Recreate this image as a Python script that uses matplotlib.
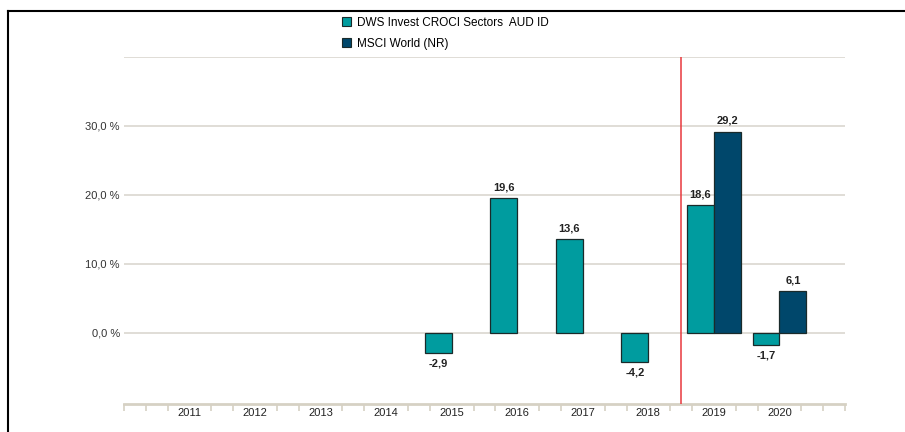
import matplotlib
matplotlib.use('Agg')
import matplotlib.pyplot as plt
from matplotlib.patches import Patch
from matplotlib.lines import Line2D
import numpy as np

plt.rcParams['font.family'] = ['Liberation Sans', 'DejaVu Sans']

years = [2011, 2012, 2013, 2014, 2015, 2016, 2017, 2018, 2019, 2020]
fund_years = [2015, 2016, 2017, 2018, 2019, 2020]
fund_vals = [-2.9, 19.6, 13.6, -4.2, 18.6, -1.7]
index_years = [2019, 2020]
index_vals = [29.2, 6.1]
fund_name = 'DWS Invest CROCI Sectors  AUD ID'
index_name = 'MSCI World (NR)'
y_ticks = [0, 10, 20, 30]

fund_color = '#009c9f'
index_color = '#00476b'
grid_color = '#dad7cf'
axis_color = '#d6d1c4'

fig = plt.figure(figsize=(9.05, 4.32), dpi=100)
ax = fig.add_axes([124 / 905, 1 - 404 / 432, 721 / 905, 347 / 432])

w = 0.41
fb = ax.bar(np.array(fund_years) - w / 2, fund_vals, width=w, color=fund_color,
            edgecolor='#1a2a2a', linewidth=0.9, zorder=3)
ib = ax.bar(np.array(index_years) + w / 2, index_vals, width=w, color=index_color,
            edgecolor='#1a2a2a', linewidth=0.9, zorder=3)

for bars, vals in [(fb, fund_vals), (ib, index_vals)]:
    for b, v in zip(bars, vals):
        x = b.get_x() + b.get_width() / 2
        txt = f'{v:.1f}'.replace('.', ',')
        if v >= 0:
            ax.text(x, v + 0.8, txt, ha='center', va='bottom', fontsize=8,
                    fontweight='bold', color='#222222')
        else:
            ax.text(x, v - 0.8, txt, ha='center', va='top', fontsize=8,
                    fontweight='bold', color='#222222')

ax.set_xlim(2010, 2021)
ax.set_ylim(-10.3, 40)

for g in y_ticks + [40]:
    ax.axhline(g, color=grid_color, linewidth=1.2, zorder=1)

ax.axvline(2018.5, color='#e8383d', linewidth=1.1, zorder=4)

for s in ['top', 'right', 'left']:
    ax.spines[s].set_visible(False)
ax.spines['bottom'].set_color(axis_color)
ax.spines['bottom'].set_linewidth(2)

ax.set_yticks(y_ticks)
ax.set_yticklabels([f'{t:.1f} %'.replace('.', ',') for t in y_ticks],
                   fontsize=8, color='#333333')
ax.tick_params(axis='y', length=0, pad=3)

ax.set_xticks(years)
ax.set_xticklabels([str(y) for y in years], fontsize=8, color='#222222')
ax.tick_params(axis='x', length=0, pad=3)
minor = [2010 + i / 3 for i in range(34) if i % 3 != 0] + [2010, 2021]
ax.set_xticks(minor, minor=True)
ax.tick_params(axis='x', which='minor', length=5, width=1.2, color=axis_color,
               direction='out')

handles = [Patch(facecolor=fund_color, edgecolor='#1a2a2a', linewidth=0.8),
           Patch(facecolor=index_color, edgecolor='#1a2a2a', linewidth=0.8)]
fig.legend(handles, [fund_name, index_name], loc='upper left',
           bbox_to_anchor=(337 / 905, 1 - 12 / 432), frameon=False, fontsize=8.5,
           handlelength=0.8, handleheight=0.8, handletextpad=0.5,
           labelspacing=0.75, borderaxespad=0)

fig.add_artist(Line2D([8 / 905, 1], [1 - 10.5 / 432, 1 - 10.5 / 432],
                      color='black', linewidth=1.5, transform=fig.transFigure))
fig.add_artist(Line2D([8 / 905, 8 / 905], [0, 1 - 10.5 / 432],
                      color='black', linewidth=1.5, transform=fig.transFigure))

fig.savefig('out.png', dpi=100)
